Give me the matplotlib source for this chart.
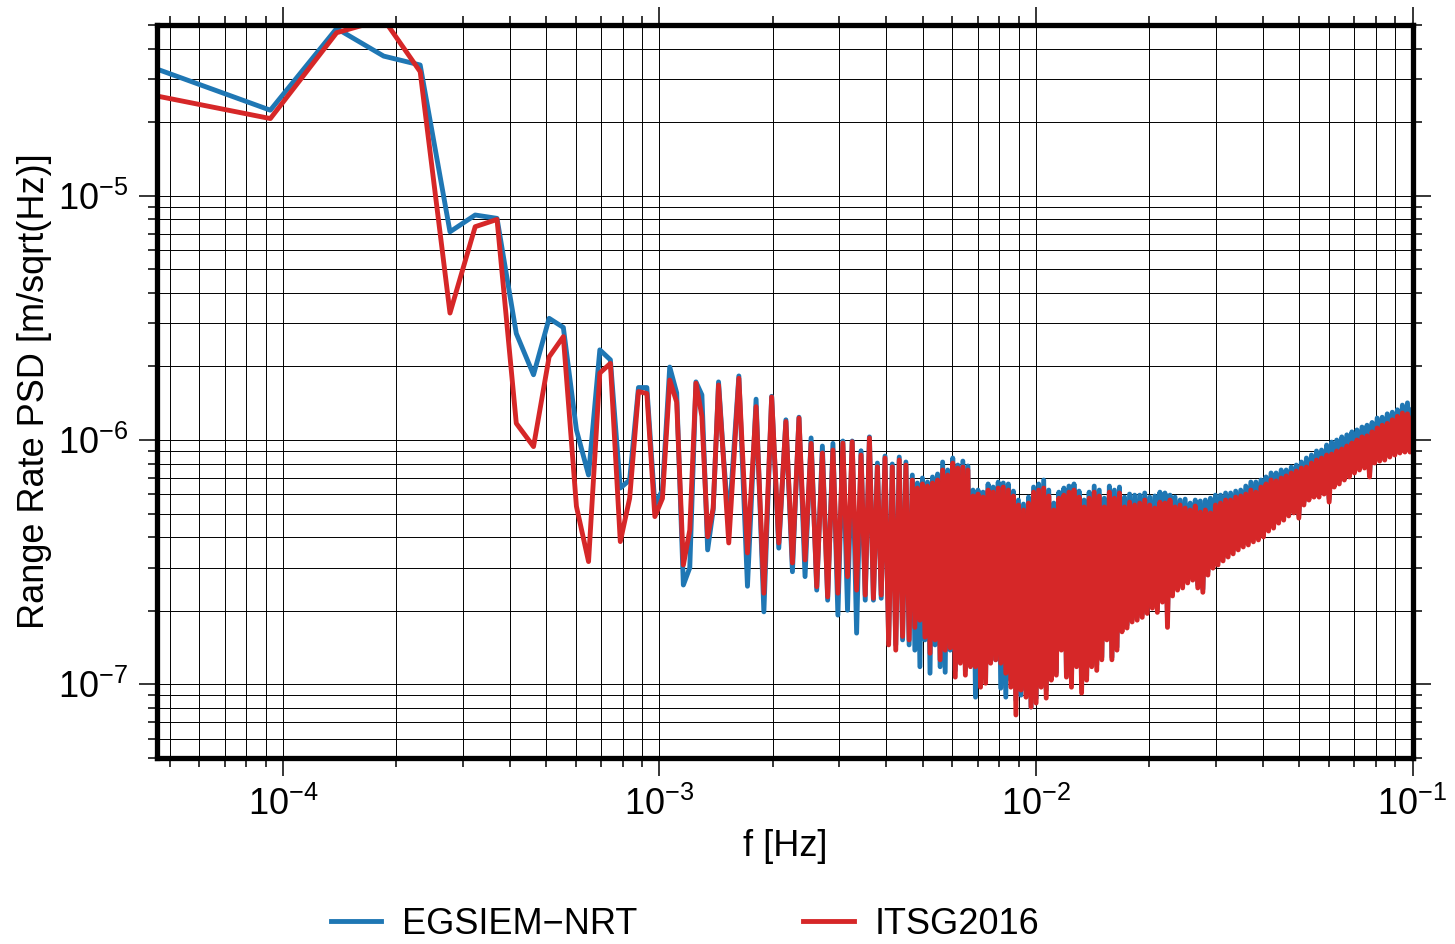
import numpy as np
import matplotlib.pyplot as plt
from matplotlib.ticker import LogLocator, NullFormatter

plt.rcParams['font.family'] = ['Liberation Sans', 'DejaVu Sans']
plt.rcParams['mathtext.fontset'] = 'custom'
plt.rcParams['mathtext.rm'] = 'Liberation Sans'
plt.rcParams['mathtext.it'] = 'Liberation Sans:italic'
plt.rcParams['mathtext.bf'] = 'Liberation Sans:bold'

df = 1.0 / 21600.0      # bin spacing (6 h arcs)
f_orb = 3.9 * df        # spacing of the once-per-rev peaks

# single bins k = 1..33
egs_bins = [3.30e-5, 2.24e-5, 4.84e-5, 3.73e-5, 3.43e-5, 7.12e-6, 8.34e-6, 8.08e-6, 2.73e-6, 1.85e-6,
            3.15e-6, 2.89e-6, 1.10e-6, 7.19e-7, 2.34e-6, 2.13e-6, 6.36e-7, 6.86e-7, 1.64e-6, 1.64e-6,
            5.42e-7, 6.24e-7, 1.99e-6, 1.56e-6, 2.55e-7, 3.00e-7, 1.73e-6, 1.53e-6, 3.55e-7, 5.17e-7,
            1.73e-6, 8.28e-7, 4.50e-7]
itsg_bins = [2.56e-5, 2.07e-5, 4.65e-5, 5.28e-5, 3.22e-5, 3.31e-6, 7.47e-6, 8.00e-6, 1.17e-6, 9.40e-7,
             2.19e-6, 2.65e-6, 5.35e-7, 3.18e-7, 1.88e-6, 2.06e-6, 3.84e-7, 5.77e-7, 1.58e-6, 1.55e-6,
             4.86e-7, 5.77e-7, 1.76e-6, 1.43e-6, 3.08e-7, 4.28e-7, 1.71e-6, 1.25e-6, 4.02e-7, 5.26e-7,
             1.68e-6, 8.05e-7, 3.79e-7]

# orbit harmonics n = 9..25 (peaks) and the dips between them
egs_ripple_peak = [1.83e-6, 1.47e-6, 1.51e-6, 1.21e-6, 1.24e-6, 1.02e-6, 9.45e-7, 9.69e-7, 9.91e-7,
                   9.91e-7, 9.04e-7, 1.03e-6, 8.05e-7, 8.60e-7, 7.98e-7, 8.52e-7, 8.13e-7]
egs_ripple_dip = [2.52e-7, 1.98e-7, 3.61e-7, 2.89e-7, 2.76e-7, 2.43e-7, 2.21e-7, 1.92e-7,
                  2.01e-7, 1.62e-7, 2.21e-7, 2.21e-7, 2.25e-7, 1.52e-7, 1.45e-7, 1.52e-7]
itsg_ripple_peak = [1.79e-6, 1.37e-6, 1.50e-6, 1.19e-6, 1.23e-6, 9.69e-7, 8.85e-7, 9.10e-7, 9.72e-7,
                    9.84e-7, 8.68e-7, 1.02e-6, 7.77e-7, 8.44e-7, 7.77e-7, 8.28e-7, 7.90e-7]
itsg_ripple_dip = [3.45e-7, 2.36e-7, 3.79e-7, 3.14e-7, 3.23e-7, 2.51e-7, 2.28e-7, 2.36e-7,
                   2.76e-7, 2.43e-7, 2.32e-7, 2.25e-7, 2.32e-7, 1.45e-7, 1.38e-7, 1.57e-7]

# dense band from ~4.7 mHz to 0.1 Hz: upper and lower edge
egs_band_peak = [7.19e-7, 6.67e-7, 6.99e-7, 6.73e-7, 7.06e-7, 7.26e-7, 8.13e-7, 7.54e-7, 8.44e-7, 7.90e-7,
                 8.20e-7, 7.83e-7, 6.24e-7, 6.24e-7, 6.12e-7, 6.61e-7, 6.42e-7, 6.73e-7, 6.67e-7, 6.61e-7,
                 6.18e-7, 5.68e-7, 5.47e-7, 5.84e-7, 6.42e-7, 6.61e-7, 6.86e-7, 6.24e-7, 5.52e-7, 6.12e-7,
                 6.36e-7, 6.48e-7, 6.61e-7, 6.18e-7, 5.68e-7, 6.12e-7, 6.48e-7, 6.24e-7, 5.78e-7, 6.48e-7,
                 6.24e-7, 6.42e-7, 5.84e-7, 6.01e-7, 5.95e-7, 5.95e-7, 6.07e-7, 5.84e-7, 5.90e-7, 6.12e-7,
                 6.07e-7, 5.95e-7, 5.84e-7, 5.68e-7, 5.73e-7, 5.52e-7, 5.68e-7, 5.63e-7, 5.68e-7, 5.78e-7,
                 5.95e-7, 5.95e-7, 6.07e-7, 6.07e-7, 6.18e-7, 6.24e-7, 6.48e-7, 6.73e-7, 6.73e-7, 6.86e-7,
                 7.06e-7, 7.33e-7, 7.33e-7, 7.54e-7, 7.54e-7, 7.75e-7, 7.90e-7, 8.13e-7, 8.44e-7, 8.68e-7,
                 9.02e-7, 9.10e-7, 9.54e-7, 9.81e-7, 1.00e-6, 1.03e-6, 1.05e-6, 1.08e-6, 1.10e-6, 1.13e-6,
                 1.15e-6, 1.18e-6, 1.23e-6, 1.24e-6, 1.28e-6, 1.30e-6, 1.33e-6, 1.39e-6, 1.42e-6, 1.33e-6]
egs_band_dip = [1.45e-7, 1.38e-7, 1.18e-7, 1.52e-7, 1.11e-7, 1.45e-7, 1.18e-7, 1.12e-7, 1.38e-7, 1.14e-7,
                1.26e-7, 1.14e-7, 1.20e-7, 8.86e-8, 1.04e-7, 1.06e-7, 1.26e-7, 1.26e-7, 9.64e-8, 8.86e-8,
                1.04e-7, 8.62e-8, 9.03e-8, 9.47e-8, 8.07e-8, 8.78e-8, 9.92e-8, 9.47e-8, 1.08e-7, 1.12e-7,
                1.41e-7, 1.12e-7, 1.02e-7, 1.24e-7, 9.64e-8, 1.08e-7, 1.24e-7, 1.20e-7, 1.29e-7, 1.56e-7,
                1.29e-7, 1.42e-7, 1.69e-7, 1.75e-7, 1.85e-7, 1.88e-7, 1.93e-7, 2.01e-7, 2.11e-7, 2.03e-7,
                2.23e-7, 1.83e-7, 2.36e-7, 2.50e-7, 2.55e-7, 2.67e-7, 2.75e-7, 2.55e-7, 2.45e-7, 2.89e-7,
                3.08e-7, 3.17e-7, 3.29e-7, 3.42e-7, 3.52e-7, 3.65e-7, 3.76e-7, 3.83e-7, 3.94e-7, 4.01e-7,
                4.13e-7, 4.36e-7, 4.48e-7, 4.70e-7, 4.84e-7, 5.03e-7, 5.17e-7, 4.93e-7, 5.57e-7, 5.84e-7,
                6.01e-7, 6.01e-7, 6.18e-7, 5.73e-7, 6.61e-7, 6.80e-7, 7.06e-7, 7.26e-7, 7.54e-7, 7.75e-7,
                7.90e-7, 7.26e-7, 8.28e-7, 8.44e-7, 8.52e-7, 8.76e-7, 8.93e-7, 9.10e-7, 9.19e-7, 9.19e-7]
itsg_band_peak = [6.86e-7, 6.36e-7, 6.61e-7, 6.48e-7, 6.67e-7, 6.86e-7, 7.54e-7, 7.19e-7, 8.05e-7, 7.68e-7,
                  7.75e-7, 7.54e-7, 5.90e-7, 6.01e-7, 5.84e-7, 6.24e-7, 6.12e-7, 6.36e-7, 6.42e-7, 6.24e-7,
                  5.90e-7, 5.42e-7, 5.17e-7, 5.52e-7, 6.12e-7, 6.24e-7, 6.36e-7, 5.90e-7, 5.17e-7, 5.78e-7,
                  5.95e-7, 6.12e-7, 6.24e-7, 5.84e-7, 5.32e-7, 5.78e-7, 6.12e-7, 5.90e-7, 5.32e-7, 6.12e-7,
                  5.78e-7, 6.07e-7, 5.32e-7, 5.57e-7, 5.42e-7, 5.52e-7, 5.68e-7, 5.42e-7, 5.27e-7, 5.57e-7,
                  5.52e-7, 5.68e-7, 5.32e-7, 5.42e-7, 5.27e-7, 5.17e-7, 5.37e-7, 5.07e-7, 5.17e-7, 5.03e-7,
                  5.42e-7, 5.52e-7, 5.68e-7, 5.68e-7, 5.84e-7, 5.90e-7, 6.01e-7, 6.24e-7, 6.12e-7, 6.42e-7,
                  6.61e-7, 6.86e-7, 6.80e-7, 6.99e-7, 7.13e-7, 7.33e-7, 7.47e-7, 7.68e-7, 7.75e-7, 8.05e-7,
                  8.28e-7, 8.44e-7, 8.68e-7, 8.76e-7, 9.02e-7, 9.19e-7, 9.45e-7, 9.72e-7, 1.00e-6, 1.03e-6,
                  1.04e-6, 1.08e-6, 1.12e-6, 1.15e-6, 1.17e-6, 1.21e-6, 1.25e-6, 1.29e-6, 1.28e-6, 1.23e-6]
itsg_band_dip = [1.52e-7, 1.71e-7, 1.83e-7, 1.56e-7, 1.34e-7, 1.52e-7, 1.26e-7, 1.38e-7, 1.41e-7, 1.07e-7,
                 1.22e-7, 1.09e-7, 1.18e-7, 1.18e-7, 9.73e-8, 1.01e-7, 1.22e-7, 1.26e-7, 1.22e-7, 1.11e-7,
                 9.73e-8, 7.49e-8, 9.47e-8, 8.86e-8, 8.07e-8, 8.38e-8, 9.73e-8, 8.78e-8, 1.04e-7, 1.09e-7,
                 1.38e-7, 1.07e-7, 9.73e-8, 1.18e-7, 9.21e-8, 1.04e-7, 1.18e-7, 1.14e-7, 1.26e-7, 1.52e-7,
                 1.26e-7, 1.38e-7, 1.64e-7, 1.70e-7, 1.80e-7, 1.83e-7, 1.88e-7, 1.95e-7, 2.05e-7, 1.97e-7,
                 2.17e-7, 1.71e-7, 2.30e-7, 2.43e-7, 2.48e-7, 2.60e-7, 2.67e-7, 2.48e-7, 2.38e-7, 2.80e-7,
                 2.99e-7, 3.08e-7, 3.20e-7, 3.32e-7, 3.42e-7, 3.55e-7, 3.65e-7, 3.72e-7, 3.83e-7, 3.90e-7,
                 4.01e-7, 4.24e-7, 4.36e-7, 4.57e-7, 4.70e-7, 4.89e-7, 5.03e-7, 4.79e-7, 5.42e-7, 5.68e-7,
                 5.84e-7, 5.84e-7, 6.01e-7, 5.57e-7, 6.42e-7, 6.61e-7, 6.86e-7, 7.06e-7, 7.33e-7, 7.54e-7,
                 7.68e-7, 7.06e-7, 8.05e-7, 8.20e-7, 8.28e-7, 8.52e-7, 8.68e-7, 8.85e-7, 8.93e-7, 8.93e-7]


def build_series(bins, r_peak, r_dip, b_peak, b_dip):
    f_bins = df * np.arange(1, len(bins) + 1)
    n0 = 9
    f_peak = np.concatenate([f_orb * np.arange(n0, n0 + len(r_peak)),
                             np.geomspace(f_orb * (n0 + len(r_peak)), 0.1, len(b_peak))])
    f_dip = np.sqrt(f_peak[:-1] * f_peak[1:])
    peaks = np.concatenate([r_peak, b_peak])
    dips = np.concatenate([r_dip, b_dip])
    f = np.empty(len(peaks) + len(dips))
    v = np.empty(len(peaks) + len(dips))
    f[0::2], f[1::2] = f_peak, f_dip
    v[0::2], v[1::2] = peaks, dips
    return np.concatenate([f_bins, f]), np.concatenate([bins, v])


f_egs, psd_egs = build_series(egs_bins, egs_ripple_peak, egs_ripple_dip, egs_band_peak, egs_band_dip)
f_itsg, psd_itsg = build_series(itsg_bins, itsg_ripple_peak, itsg_ripple_dip, itsg_band_peak, itsg_band_dip)

fig = plt.figure(figsize=(14.55, 9.44), dpi=100)
ax = fig.add_axes([0.1079, 0.1972, 0.8629, 0.7763])

ax.plot(f_egs, psd_egs, color='#1f77b4', lw=3.5, label='EGSIEM\u2212NRT')
ax.plot(f_itsg, psd_itsg, color='#d62728', lw=3.5, label='ITSG2016')

ax.set_xscale('log')
ax.set_yscale('log')
ax.set_xlim(df, 0.1)
ax.set_ylim(5e-8, 5e-5)

for axis in (ax.xaxis, ax.yaxis):
    axis.set_major_locator(LogLocator(base=10, numticks=20))
    axis.set_minor_locator(LogLocator(base=10, subs=np.arange(2, 10), numticks=200))
    axis.set_minor_formatter(NullFormatter())

ax.grid(True, which='both', color='black', lw=0.7)
ax.set_axisbelow(True)
for s in ax.spines.values():
    s.set_linewidth(3.8)

ax.tick_params(which='both', direction='out', top=True, right=True, width=1.1, labelsize=26)
ax.tick_params(which='major', length=13, pad=8)
ax.tick_params(which='minor', length=6.5)

ax.set_xlabel('f [Hz]', fontsize=26, labelpad=4)
ax.set_ylabel('Range Rate PSD [m/sqrt(Hz)]', fontsize=26, labelpad=4)

fig.legend(loc='center', bbox_to_anchor=(0.4708, 0.021), ncol=2, frameon=False, fontsize=26,
           handlelength=1.39, handletextpad=0.57, columnspacing=4.6)

fig.savefig('out.png', dpi=100)
